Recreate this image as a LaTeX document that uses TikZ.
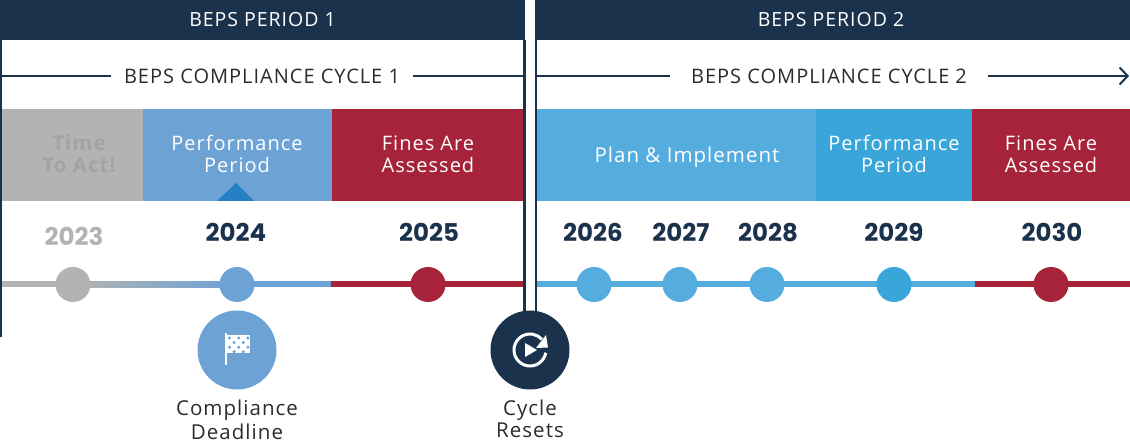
\documentclass[tikz,border=0pt]{standalone}
\usepackage{fontspec}
\setmainfont[LetterSpace=5]{Open Sans}
\newfontfamily\yearfont{Poppins}
\usetikzlibrary{arrows.meta, positioning, backgrounds}
\definecolor{navy}{HTML}{1B324D}
\definecolor{ashgray}{HTML}{B3B3B3}
\definecolor{ashtext}{HTML}{A3A3A3}
\definecolor{perfblue}{HTML}{6DA2D5}
\definecolor{planblue}{HTML}{55ADDF}
\definecolor{lateblue}{HTML}{3AA5D8}
\definecolor{tipblue}{HTML}{2581C4}
\definecolor{finered}{HTML}{A6233A}
\definecolor{inkgray}{HTML}{2B2B2B}
\tikzset{
  header/.style={fill=navy, text=white, minimum height=40, inner sep=0, font=\fontsize{19.5}{20}\selectfont},
  cycletext/.style={fill=white, text=inkgray, inner ysep=0, inner xsep=13, text height=18pt, text depth=2pt, font=\fontsize{20}{20}\selectfont},
  cycleline/.style={draw=navy, line width=2},
  band/.style={minimum height=92, inner sep=0, outer sep=0},
  bandlabel/.style={inner sep=0, text=white, align=center, font=\fontsize{20}{22}\selectfont},
  year/.style={text=navy, inner sep=0, text height=17pt, text depth=0pt, font=\yearfont\bfseries\fontsize{24.5}{26}\selectfont},
  tick/.style={circle, minimum size=35, inner sep=0, outer sep=0},
  timeline/.style={line width=6},
  caption/.style={text=inkgray, inner sep=0, align=center, font=\fontsize{20.5}{24}\selectfont},
  bigdot/.style={circle, minimum size=79, inner sep=0, outer sep=0},
  border/.style={draw=navy, line width=2.5}
}
\begin{document}
\begin{tikzpicture}[x=1pt, y=-1pt]
    \useasboundingbox (0,0) rectangle (1130,443);

    \node[header, minimum width=525] (P1) at (262.5,20) {BEPS PERIOD 1};
    \node[header, minimum width=595] (P2) at (832.5,20) {\hspace{-3pt}BEPS PERIOD 2};

    \node[cycletext] (C1) at (262,76) {BEPS COMPLIANCE CYCLE 1};
    \node[cycletext, inner xsep=21] (C2) at (829,76) {BEPS COMPLIANCE CYCLE\hspace{6pt}2};
    \coordinate (C1a) at (0,76);
    \coordinate (C1b) at (524,76);
    \coordinate (C2a) at (536,76);
    \coordinate (C2b) at (1129,76);
    \draw[cycleline] (C1a) -- (C1);
    \draw[cycleline] (C1) -- (C1b);
    \draw[cycleline] (C2a) -- (C2);
    \draw[cycleline, -{Straight Barb[length=8pt, width=17pt]}] (C2) -- (C2b);

    \node[band, fill=ashgray, minimum width=142] (B1) at (72,155) {};
    \node[band, fill=perfblue, minimum width=189, right=0pt of B1] (B2) {};
    \node[band, fill=finered, minimum width=192, right=0pt of B2] (B3) {};
    \node[band, fill=planblue, minimum width=279] (B4) at (676.5,155) {};
    \node[band, fill=lateblue, minimum width=156, right=0pt of B4] (B5) {};
    \node[band, fill=finered, minimum width=158, right=0pt of B5] (B6) {};
    \node[bandlabel, text=ashtext, font=\bfseries\fontsize{20.5}{22}\selectfont] (B1t) at (79,154) {Time\\To Act!};
    \node[bandlabel] (B2t) at (237,154) {Performance\\Period};
    \node[bandlabel] (B3t) at (428,154) {Fines Are\\Assessed};
    \node[bandlabel, font=\fontsize{20.5}{22}\selectfont] (B4t) at (687,157) {Plan \& Implement};
    \node[bandlabel] (B5t) at (894,154) {Performance\\Period};
    \node[bandlabel] (B6t) at (1051,154) {Fines Are\\Assessed};
    \fill[tipblue] (217,201) -- (236,183) -- (254,201) -- cycle;

    \node[tick, fill=ashgray] (T23) at (73,284.5) {};
    \node[tick, fill=perfblue] (T24) at (237,284.5) {};
    \node[tick, fill=finered] (T25) at (428,284.5) {};
    \node[tick, fill=planblue] (T26) at (594,284.5) {};
    \node[tick, fill=planblue] (T27) at (680,284.5) {};
    \node[tick, fill=planblue] (T28) at (767,284.5) {};
    \node[tick, fill=lateblue] (T29) at (894,284.5) {};
    \node[tick, fill=finered] (T30) at (1051,284.5) {};

    \node[year, text=ashgray] (Y23) at (74,237) {2023};
    \node[year] (Y24) at (236,233) {2024};
    \node[year] (Y25) at (429,233) {2025};
    \node[year] (Y26) at (593,233) {2026};
    \node[year] (Y27) at (681,233) {2027};
    \node[year] (Y28) at (768,233) {2028};
    \node[year] (Y29) at (894,233) {2029};
    \node[year] (Y30) at (1052,233) {2030};

    \coordinate (L0) at (1,284.5);
    \coordinate (L1) at (331,284.5);
    \coordinate (L2) at (524,284.5);
    \coordinate (L3) at (536,284.5);
    \coordinate (L4) at (975,284.5);
    \coordinate (L5) at (1130,284.5);
    \begin{scope}[on background layer]
        \draw[timeline, ashgray] (L0) -- (T23.center);
        \shade[left color=ashgray, right color=perfblue] ([yshift=-3pt]T23.center) rectangle ([yshift=3pt]T24.center);
        \draw[timeline, perfblue] (T24.center) -- (L1);
        \draw[timeline, finered] (L1) -- (T25.center);
        \draw[timeline, finered] (T25.center) -- (L2);
        \draw[timeline, planblue] (L3) -- (T26.center);
        \draw[timeline, planblue] (T26.center) -- (T27.center);
        \draw[timeline, planblue] (T27.center) -- (T28.center);
        \draw[timeline, planblue] (T28.center) -- (T29.center);
        \draw[timeline, planblue] (T29.center) -- (L4);
        \draw[timeline, finered] (L4) -- (T30.center);
        \draw[timeline, finered] (T30.center) -- (L5);
    \end{scope}

    \coordinate (V0a) at (1,40);
    \coordinate (V0b) at (1,337);
    \coordinate (V1a) at (524.3,40);
    \coordinate (V1b) at (524.3,330);
    \coordinate (V2a) at (535.8,40);
    \coordinate (V2b) at (535.8,330);
    \draw[border] (V0a) -- (V0b);
    \draw[border] (V1a) -- (V1b);
    \draw[border] (V2a) -- (V2b);

    \node[bigdot, fill=perfblue] (flag) at (237,350) {};
    \node[bigdot, fill=navy] (reset) at (530,350) {};
    \node[caption, below=10pt of flag] (flagtext) {Compliance\\Deadline};
    \node[caption, below=10pt of reset, font=\fontsize{20.5}{22}\selectfont] (resettext) {Cycle\\Resets};

    \fill[white] (224.5,333) rectangle (227,365);
    \fill[white] (227,335) rectangle (250,353);
    \foreach \col/\row in {0/0, 2/0, 4/0, 1/1, 3/1, 0/2, 2/2, 4/2, 1/3, 3/3}
        \fill[perfblue] (229.5+4.6*\col,338+4.6*\row) circle[radius=1.7pt];

    \draw[white, line width=3] ([shift={(-10:16pt)}]reset.center) arc[start angle=-10, end angle=-318, radius=16pt];
    \fill[white] (546,335) -- (548,347.5) -- (536,348) -- cycle;
    \fill[white] (525,343) -- (525,357) -- (537,350) -- cycle;
\end{tikzpicture}
\end{document}
